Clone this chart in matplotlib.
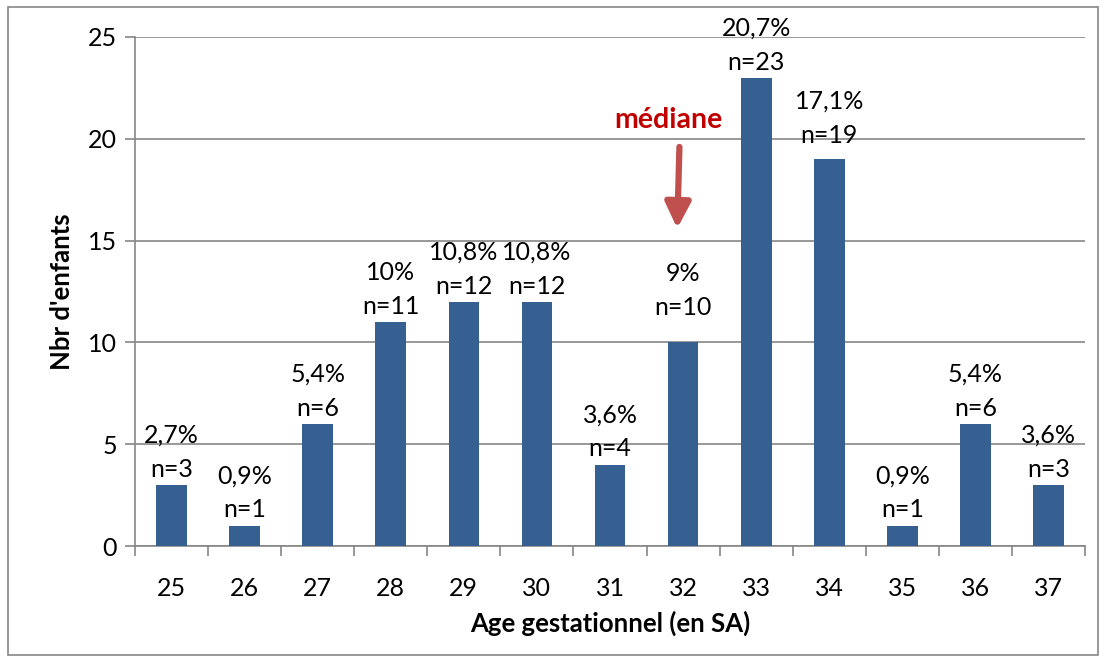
import matplotlib
matplotlib.use("Agg")
import matplotlib.pyplot as plt
from matplotlib.patches import Rectangle
import numpy as np

# data
ages = ["25", "26", "27", "28", "29", "30", "31", "32", "33", "34", "35", "36", "37"]
counts = [3, 1, 6, 11, 12, 12, 4, 10, 23, 19, 1, 6, 3]
pcts = ["2,7%", "0,9%", "5,4%", "10%", "10,8%", "10,8%", "3,6%",
        "9%", "20,7%", "17,1%", "0,9%", "5,4%", "3,6%"]
median_age = "32"

plt.rcParams['font.family'] = ['Lato', 'DejaVu Sans']
grey = '#868686'
bar_col = '#376092'
fs = 18

fig = plt.figure(figsize=(11.06, 6.63), dpi=100)
ax = fig.add_axes([135/1106, 117/663, 950/1106, 509/663])

x = np.arange(len(ages))
ax.bar(x, counts, width=0.42, color=bar_col, zorder=3)

ax.set_xlim(-0.5, len(ages) - 0.5)
ax.set_ylim(0, 25)
ax.set_yticks(range(0, 26, 5))
ax.yaxis.grid(True, color=grey, linewidth=1.2, zorder=0)
ax.set_axisbelow(True)

# category labels at centres, tick marks between categories
ax.set_xticks(x)
ax.set_xticklabels(ages)
ax.set_xticks(np.arange(-0.5, len(ages)), minor=True)
ax.tick_params(axis='x', which='major', length=0, pad=22, labelsize=fs)
ax.tick_params(axis='x', which='minor', length=7, color=grey, width=1.2)
ax.tick_params(axis='y', length=7, color=grey, width=1.2, labelsize=fs, pad=6)

for s in ['top', 'right']:
    ax.spines[s].set_visible(False)
for s in ['left', 'bottom']:
    ax.spines[s].set_color(grey)
    ax.spines[s].set_linewidth(1.2)

ax.set_xlabel("Age gestationnel (en SA)", fontsize=18.5, fontweight='bold', labelpad=8)
ax.set_ylabel("Nbr d'enfants", fontsize=18.5, fontweight='bold', labelpad=10)

# labels above bars
for i, (c, p) in enumerate(zip(counts, pcts)):
    extra = 0
    if ages[i] == median_age:
        extra = 14
    elif ages[i] == "34":
        extra = 6
    ax.annotate("n=%d" % c, (i, c), xytext=(0, 3 + extra), textcoords='offset points',
                ha='center', va='bottom', fontsize=fs, zorder=5)
    ax.annotate(p, (i, c), xytext=(0, 27.5 + extra), textcoords='offset points',
                ha='center', va='bottom', fontsize=fs, zorder=5)

# median marker
mi = ages.index(median_age)
ax.text(mi - 0.2, 20.9, "médiane", color='#C00000', fontsize=20.5, fontweight='bold',
        ha='center', va='center')
ax.annotate("", xy=(mi - 0.08, 15.6), xytext=(mi - 0.05, 19.6),
            arrowprops=dict(arrowstyle='-|>,head_length=0.7,head_width=0.35',
                            color='#C0504D', lw=4.5,
                            mutation_scale=22, shrinkA=0, shrinkB=0))

# outer frame
fig.patches.append(Rectangle((8/1106, 8/663), 1090/1106, 648/663, transform=fig.transFigure,
                             fill=False, edgecolor=grey, linewidth=1.2))

fig.savefig("out.png", dpi=100)
